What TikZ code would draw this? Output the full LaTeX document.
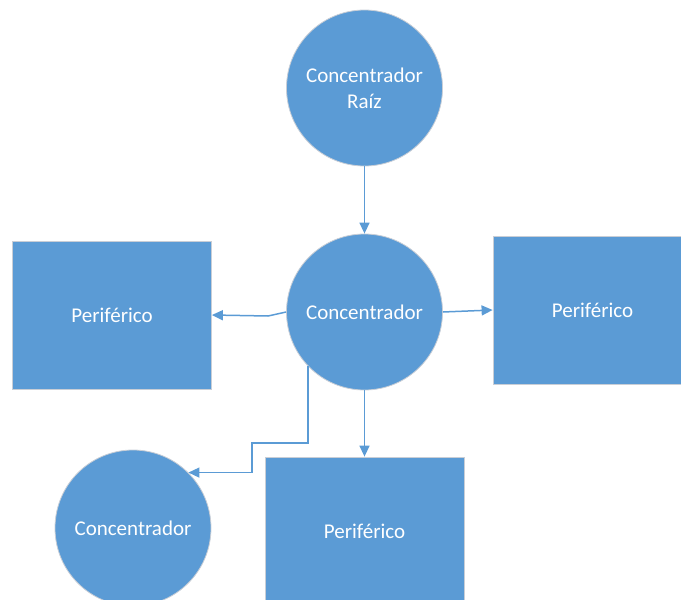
\documentclass[tikz,border=0pt]{standalone}
\usepackage{fontspec}
\setmainfont{Carlito}
\usetikzlibrary{arrows.meta}
\definecolor{blu}{HTML}{5B9BD5}
\definecolor{edge}{HTML}{C9CED6}
\begin{document}
\begin{tikzpicture}[x=1pt,y=-1pt,
  hub/.style={circle,fill=blu,draw=edge,line width=0.8pt,minimum size=156pt,inner sep=0pt,text=white,font=\fontsize{21}{26}\selectfont,align=center},
  per/.style={rectangle,fill=blu,draw=edge,line width=0.8pt,minimum width=199pt,minimum height=148pt,inner sep=0pt,text=white,font=\fontsize{21}{26}\selectfont},
  link/.style={draw=blu,line width=1.5pt,-{Triangle[length=11pt,width=10pt]}}]
\useasboundingbox (0,0) rectangle (681,600);
\clip (0,0) rectangle (681,600);
\node[hub] (root) at (364.5,88) {Concentrador\\Raíz};
\node[hub] (c) at (364.5,312) {Concentrador};
\node[per] (l) at (112,315) {Periférico};
\node[per] (r) at (592.5,310) {Periférico};
\node[per] (b) at (364.5,531) {Periférico};
\node[hub] (bl) at (133,528) {Concentrador};
\coordinate (k1) at (252,443);
\draw[link] (root.south) -- (c.north);
\draw[link] (c.west) -- ++(-18,4) -- (l.east);
\draw[link] (c.east) -- (r.west);
\draw[link] (c.south) -- (b.north);
\draw[link] (c.224) |- (k1) |- (bl.45);
\end{tikzpicture}
\end{document}
